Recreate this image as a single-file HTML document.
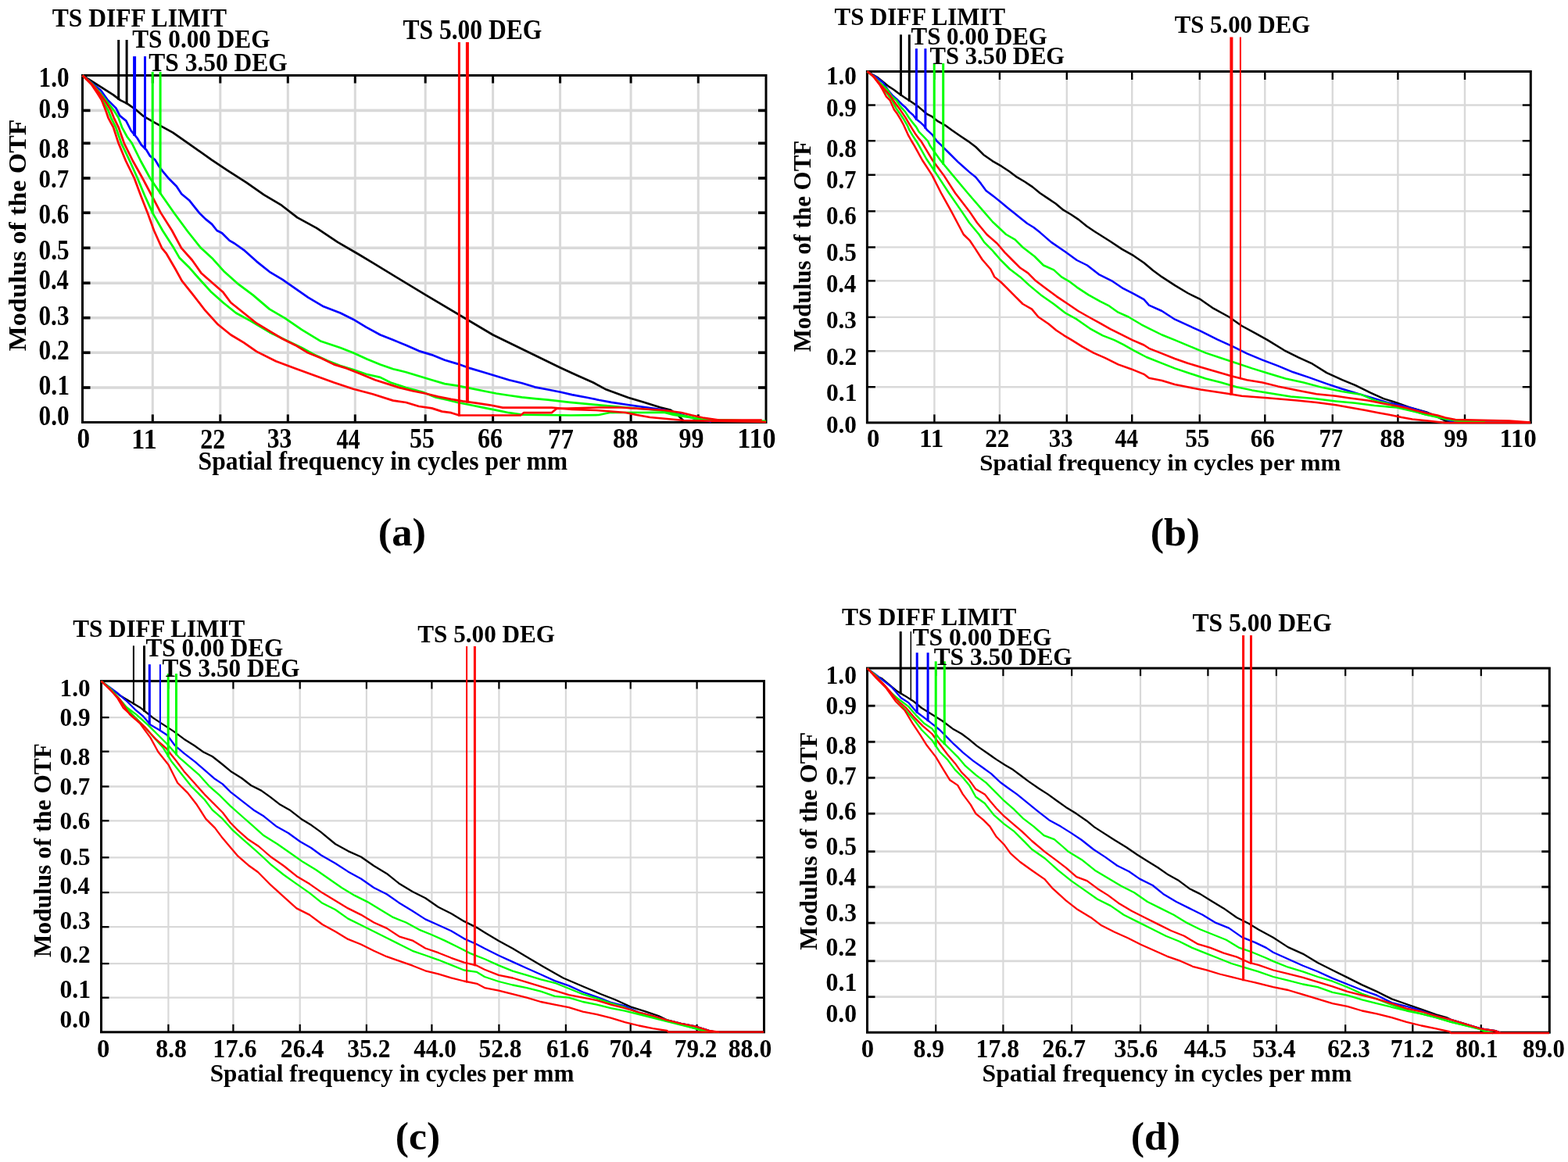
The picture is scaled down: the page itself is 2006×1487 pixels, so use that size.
<!DOCTYPE html><html><head><meta charset="utf-8"><title>MTF plots</title><style>html,body{margin:0;padding:0;background:#fff;width:2006px;height:1487px;overflow:hidden}svg{display:block}text{font-family:'Liberation Serif', serif;font-weight:bold;fill:#000}</style></head><body>
<svg width="2006" height="1487" viewBox="0 0 2006 1487">
<rect width="2006" height="1487" fill="#fff"/>
<line x1="195.3" y1="96.5" x2="195.3" y2="540.4" stroke="#d9d9d9" stroke-width="3"/>
<line x1="281.8" y1="96.5" x2="281.8" y2="540.4" stroke="#d9d9d9" stroke-width="3"/>
<line x1="368.3" y1="96.5" x2="368.3" y2="540.4" stroke="#d9d9d9" stroke-width="3"/>
<line x1="454.3" y1="96.5" x2="454.3" y2="540.4" stroke="#d9d9d9" stroke-width="3"/>
<line x1="544.2" y1="96.5" x2="544.2" y2="540.4" stroke="#d9d9d9" stroke-width="3"/>
<line x1="630.6" y1="96.5" x2="630.6" y2="540.4" stroke="#d9d9d9" stroke-width="3"/>
<line x1="716.6" y1="96.5" x2="716.6" y2="540.4" stroke="#d9d9d9" stroke-width="3"/>
<line x1="807.1" y1="96.5" x2="807.1" y2="540.4" stroke="#d9d9d9" stroke-width="3"/>
<line x1="893.3" y1="96.5" x2="893.3" y2="540.4" stroke="#d9d9d9" stroke-width="3"/>
<line x1="105.5" y1="141.4" x2="980.0" y2="141.4" stroke="#d9d9d9" stroke-width="3.6"/>
<line x1="105.5" y1="183.3" x2="980.0" y2="183.3" stroke="#d9d9d9" stroke-width="3.6"/>
<line x1="105.5" y1="228.0" x2="980.0" y2="228.0" stroke="#d9d9d9" stroke-width="3.6"/>
<line x1="105.5" y1="272.3" x2="980.0" y2="272.3" stroke="#d9d9d9" stroke-width="3.6"/>
<line x1="105.5" y1="317.3" x2="980.0" y2="317.3" stroke="#d9d9d9" stroke-width="3.6"/>
<line x1="105.5" y1="362.2" x2="980.0" y2="362.2" stroke="#d9d9d9" stroke-width="3.6"/>
<line x1="105.5" y1="406.7" x2="980.0" y2="406.7" stroke="#d9d9d9" stroke-width="3.6"/>
<line x1="105.5" y1="451.3" x2="980.0" y2="451.3" stroke="#d9d9d9" stroke-width="3.6"/>
<line x1="105.5" y1="496.0" x2="980.0" y2="496.0" stroke="#d9d9d9" stroke-width="3.6"/>
<line x1="195.3" y1="96.5" x2="195.3" y2="106.5" stroke="#000" stroke-width="3"/>
<line x1="195.3" y1="540.4" x2="195.3" y2="530.4" stroke="#000" stroke-width="3"/>
<line x1="281.8" y1="96.5" x2="281.8" y2="106.5" stroke="#000" stroke-width="3"/>
<line x1="281.8" y1="540.4" x2="281.8" y2="530.4" stroke="#000" stroke-width="3"/>
<line x1="368.3" y1="96.5" x2="368.3" y2="106.5" stroke="#000" stroke-width="3"/>
<line x1="368.3" y1="540.4" x2="368.3" y2="530.4" stroke="#000" stroke-width="3"/>
<line x1="454.3" y1="96.5" x2="454.3" y2="106.5" stroke="#000" stroke-width="3"/>
<line x1="454.3" y1="540.4" x2="454.3" y2="530.4" stroke="#000" stroke-width="3"/>
<line x1="544.2" y1="96.5" x2="544.2" y2="106.5" stroke="#000" stroke-width="3"/>
<line x1="544.2" y1="540.4" x2="544.2" y2="530.4" stroke="#000" stroke-width="3"/>
<line x1="630.6" y1="96.5" x2="630.6" y2="106.5" stroke="#000" stroke-width="3"/>
<line x1="630.6" y1="540.4" x2="630.6" y2="530.4" stroke="#000" stroke-width="3"/>
<line x1="716.6" y1="96.5" x2="716.6" y2="106.5" stroke="#000" stroke-width="3"/>
<line x1="716.6" y1="540.4" x2="716.6" y2="530.4" stroke="#000" stroke-width="3"/>
<line x1="807.1" y1="96.5" x2="807.1" y2="106.5" stroke="#000" stroke-width="3"/>
<line x1="807.1" y1="540.4" x2="807.1" y2="530.4" stroke="#000" stroke-width="3"/>
<line x1="893.3" y1="96.5" x2="893.3" y2="106.5" stroke="#000" stroke-width="3"/>
<line x1="893.3" y1="540.4" x2="893.3" y2="530.4" stroke="#000" stroke-width="3"/>
<line x1="105.5" y1="141.4" x2="115.5" y2="141.4" stroke="#000" stroke-width="3.6"/>
<line x1="980.0" y1="141.4" x2="970.0" y2="141.4" stroke="#000" stroke-width="3.6"/>
<line x1="105.5" y1="183.3" x2="115.5" y2="183.3" stroke="#000" stroke-width="3.6"/>
<line x1="980.0" y1="183.3" x2="970.0" y2="183.3" stroke="#000" stroke-width="3.6"/>
<line x1="105.5" y1="228.0" x2="115.5" y2="228.0" stroke="#000" stroke-width="3.6"/>
<line x1="980.0" y1="228.0" x2="970.0" y2="228.0" stroke="#000" stroke-width="3.6"/>
<line x1="105.5" y1="272.3" x2="115.5" y2="272.3" stroke="#000" stroke-width="3.6"/>
<line x1="980.0" y1="272.3" x2="970.0" y2="272.3" stroke="#000" stroke-width="3.6"/>
<line x1="105.5" y1="317.3" x2="115.5" y2="317.3" stroke="#000" stroke-width="3.6"/>
<line x1="980.0" y1="317.3" x2="970.0" y2="317.3" stroke="#000" stroke-width="3.6"/>
<line x1="105.5" y1="362.2" x2="115.5" y2="362.2" stroke="#000" stroke-width="3.6"/>
<line x1="980.0" y1="362.2" x2="970.0" y2="362.2" stroke="#000" stroke-width="3.6"/>
<line x1="105.5" y1="406.7" x2="115.5" y2="406.7" stroke="#000" stroke-width="3.6"/>
<line x1="980.0" y1="406.7" x2="970.0" y2="406.7" stroke="#000" stroke-width="3.6"/>
<line x1="105.5" y1="451.3" x2="115.5" y2="451.3" stroke="#000" stroke-width="3.6"/>
<line x1="980.0" y1="451.3" x2="970.0" y2="451.3" stroke="#000" stroke-width="3.6"/>
<line x1="105.5" y1="496.0" x2="115.5" y2="496.0" stroke="#000" stroke-width="3.6"/>
<line x1="980.0" y1="496.0" x2="970.0" y2="496.0" stroke="#000" stroke-width="3.6"/>
<rect x="105.5" y="96.5" width="874.5" height="443.9" fill="none" stroke="#000" stroke-width="3"/>
<path d="M105.5,96.5 L129.2,111.3 L144.9,121.4 L153.8,128.1 L162.8,132.6 L174.0,140.5 L183.0,148.3 L198.7,157.3 L221.1,169.6 L243.6,185.3 L270.5,204.4 L290.7,217.9 L315.3,233.6 L337.8,249.3 L360.2,262.7 L380.4,278.4 L405.1,291.9 L432.0,309.8 L458.9,325.5 L476.6,336.2 L544.5,377.4 L630.6,428.5 L716.8,470.5 L736.9,479.8 L758.9,489.5 L775.7,498.6 L804.3,509.0 L823.7,514.8 L844.4,521.3 L857.4,524.5 L866.0,530.0 L875.0,539.0" fill="none" stroke="#000" stroke-width="2.7" stroke-linejoin="round"/>
<path d="M105.5,96.5 L109.7,99.7 L119.4,107.8 L129.1,115.8 L137.1,127.1 L148.4,138.4 L153.3,148.1 L161.3,154.6 L167.8,167.5 L175.9,177.2 L180.7,185.2 L187.2,191.7 L192.0,199.7 L198.5,204.6 L203.3,212.7 L208.1,219.1 L216.2,228.8 L225.9,238.5 L232.3,248.2 L242.0,256.2 L248.5,264.3 L254.9,272.4 L263.0,280.4 L271.1,286.9 L277.5,295.0 L284.0,298.2 L293.7,307.9 L300.0,311.5 L311.8,319.8 L328.3,334.6 L344.8,347.8 L361.2,357.7 L377.7,369.2 L394.2,380.7 L414.0,392.3 L435.4,400.5 L451.9,408.7 L468.4,418.6 L486.5,428.5 L503.0,435.1 L519.4,441.7 L535.9,449.1 L552.4,454.1 L568.9,460.7 L585.3,465.6 L601.8,471.4 L618.3,476.3 L634.8,481.3 L651.2,486.2 L667.7,490.3 L684.2,495.3 L700.7,498.5 L717.2,501.8 L731.7,505.1 L752.4,509.0 L766.7,512.0 L782.2,514.8 L803.0,518.0 L826.3,521.3 L849.6,524.5 L870.0,530.0 L890.0,536.0 L910.0,539.5" fill="none" stroke="#0000ff" stroke-width="2.7" stroke-linejoin="round"/>
<path d="M105.5,96.5 L112.0,102.0 L118.5,108.0 L129.0,120.0 L137.0,130.0 L145.7,141.4 L151.6,150.8 L156.0,162.8 L162.4,174.7 L168.8,183.3 L180.0,206.0 L192.0,228.0 L207.0,250.0 L222.7,272.4 L240.0,296.0 L257.0,317.3 L272.3,331.3 L287.1,347.8 L303.6,362.6 L323.4,377.4 L344.8,395.6 L364.5,407.1 L386.0,421.9 L410.7,436.8 L435.4,445.0 L451.9,451.6 L470.0,459.8 L486.5,466.4 L503.0,472.2 L519.4,476.3 L535.9,481.3 L552.4,486.2 L568.9,491.1 L585.3,493.6 L601.8,496.9 L618.3,500.2 L634.8,503.5 L651.2,506.0 L667.7,508.4 L684.2,510.1 L700.7,511.7 L729.1,514.8 L766.7,518.4 L799.1,521.3 L830.0,524.0 L850.0,526.0 L870.0,531.0 L900.0,537.0 L980.0,539.0" fill="none" stroke="#00ff00" stroke-width="2.7" stroke-linejoin="round"/>
<path d="M105.5,96.5 L111.5,102.0 L117.5,108.0 L126.5,120.0 L132.0,130.0 L138.5,141.4 L142.1,150.8 L148.1,162.8 L155.2,183.3 L166.0,206.0 L175.9,228.0 L185.0,250.0 L195.2,272.4 L208.0,295.0 L222.3,317.3 L229.4,329.7 L242.6,342.8 L254.1,356.0 L270.6,374.1 L285.5,387.3 L301.9,400.5 L320.0,410.4 L344.8,425.2 L386.0,445.0 L402.4,454.0 L418.9,461.5 L435.4,468.0 L451.9,473.0 L468.4,478.8 L486.5,482.9 L499.7,489.5 L519.4,496.1 L540.9,501.8 L557.3,508.4 L572.2,511.7 L585.3,515.0 L601.8,518.3 L618.3,521.6 L634.8,524.9 L651.2,528.2 L667.7,530.7 L730.0,531.5 L766.0,531.0 L780.0,528.0 L849.6,527.8 L862.0,531.0 L883.0,534.2 L897.0,537.5 L940.0,538.0 L980.0,539.0" fill="none" stroke="#00ff00" stroke-width="2.7" stroke-linejoin="round"/>
<path d="M105.5,96.5 L111.8,102.0 L118.0,108.0 L128.0,120.0 L135.0,130.0 L142.0,141.4 L145.7,150.8 L151.6,162.8 L158.8,183.3 L170.0,206.0 L182.3,228.0 L194.0,250.0 L205.7,272.4 L220.0,295.0 L232.0,317.3 L245.9,333.0 L257.4,349.4 L272.3,362.6 L285.5,374.1 L295.3,387.3 L311.8,400.5 L328.3,413.7 L344.8,423.6 L361.2,433.5 L377.7,441.7 L394.2,451.6 L410.7,458.2 L427.2,466.4 L443.6,471.4 L460.1,478.0 L480.0,486.2 L511.2,496.1 L527.7,500.2 L544.1,503.5 L560.6,507.6 L577.1,510.9 L591.9,513.4 L610.0,515.9 L626.5,518.3 L643.0,521.6 L705.6,521.6 L731.7,523.9 L762.8,525.0 L800.4,528.0 L814.6,531.0 L831.5,534.0 L874.9,538.0 L980.0,540.0" fill="none" stroke="#ff0000" stroke-width="2.7" stroke-linejoin="round"/>
<path d="M105.5,96.5 L111.0,102.0 L117.0,108.0 L125.0,120.0 L130.0,128.0 L135.3,141.4 L138.5,150.8 L145.0,162.8 L151.6,183.3 L161.0,206.0 L171.8,228.0 L180.0,250.0 L188.8,272.4 L197.0,295.0 L207.0,317.3 L213.0,324.7 L224.5,344.5 L232.7,359.3 L245.9,375.8 L262.4,397.2 L278.9,415.3 L295.3,428.5 L311.8,438.4 L328.3,449.9 L353.0,462.3 L377.7,471.4 L402.4,480.4 L427.2,489.5 L451.9,497.7 L476.6,504.3 L503.0,512.6 L519.4,515.0 L535.9,520.0 L552.4,522.4 L565.6,526.6 L577.1,528.2 L587.5,531.5 L666.0,531.5 L670.0,528.2 L705.6,528.2 L712.0,523.0 L762.8,521.5 L795.2,521.5 L849.6,525.0 L871.6,528.0 L884.6,531.3 L898.9,534.5 L920.0,537.5 L974.7,537.5" fill="none" stroke="#ff0000" stroke-width="2.7" stroke-linejoin="round"/>
<line x1="151.7" y1="51" x2="151.7" y2="127.7" stroke="#000" stroke-width="3"/>
<line x1="162.1" y1="51" x2="162.1" y2="133.4" stroke="#000" stroke-width="3"/>
<line x1="172.1" y1="72.1" x2="172.1" y2="173.8" stroke="#0000ff" stroke-width="4"/>
<line x1="185.5" y1="72.1" x2="185.5" y2="191.2" stroke="#0000ff" stroke-width="3"/>
<line x1="195.2" y1="92" x2="195.2" y2="273.6" stroke="#00ff00" stroke-width="3"/>
<line x1="205.1" y1="92" x2="205.1" y2="248.4" stroke="#00ff00" stroke-width="3"/>
<line x1="587.4" y1="53.9" x2="587.4" y2="532.7" stroke="#ff0000" stroke-width="3"/>
<line x1="597.9" y1="53.9" x2="597.9" y2="515.4" stroke="#ff0000" stroke-width="4"/>
<text transform="translate(66.73,34.26) scale(0.9275,1)" font-size="34.05">TS DIFF LIMIT</text>
<text transform="translate(169.23,61.19) scale(0.9284,1)" font-size="33.68">TS 0.00 DEG</text>
<text transform="translate(190.33,91.49) scale(0.9347,1)" font-size="33.68">TS 3.50 DEG</text>
<text transform="translate(515.43,50.37) scale(0.8865,1)" font-size="35.59">TS 5.00 DEG</text>
<text transform="translate(49.61,111.48) scale(0.8943,1)" font-size="34.85">1.0</text>
<text transform="translate(49.53,150.96) scale(0.8651,1)" font-size="36.03">0.9</text>
<text transform="translate(49.53,202.28) scale(0.8924,1)" font-size="34.85">0.8</text>
<text transform="translate(49.54,240.08) scale(0.8905,1)" font-size="34.71">0.7</text>
<text transform="translate(49.54,286.38) scale(0.8905,1)" font-size="34.85">0.6</text>
<text transform="translate(49.53,331.86) scale(0.8599,1)" font-size="36.32">0.5</text>
<text transform="translate(49.55,370.38) scale(0.8812,1)" font-size="34.85">0.4</text>
<text transform="translate(49.53,415.76) scale(0.8651,1)" font-size="36.03">0.3</text>
<text transform="translate(49.52,460.38) scale(0.9000,1)" font-size="34.85">0.2</text>
<text transform="translate(49.51,504.98) scale(0.9078,1)" font-size="34.85">0.1</text>
<text transform="translate(49.53,544.28) scale(0.8962,1)" font-size="34.85">0.0</text>
<text transform="translate(98.56,573.34) scale(0.9292,1)" font-size="35.70">0</text>
<text transform="translate(168.02,573.70) scale(0.9505,1)" font-size="36.52">11</text>
<text transform="translate(256.14,573.70) scale(0.8803,1)" font-size="36.38">22</text>
<text transform="translate(341.82,573.34) scale(0.8815,1)" font-size="35.84">33</text>
<text transform="translate(430.52,573.70) scale(0.8241,1)" font-size="36.65">44</text>
<text transform="translate(524.03,573.34) scale(0.8794,1)" font-size="36.24">55</text>
<text transform="translate(610.98,573.34) scale(0.8923,1)" font-size="35.84">66</text>
<text transform="translate(701.12,573.70) scale(0.8887,1)" font-size="36.79">77</text>
<text transform="translate(784.04,573.34) scale(0.9106,1)" font-size="35.70">88</text>
<text transform="translate(868.52,573.34) scale(0.8900,1)" font-size="35.84">99</text>
<text transform="translate(943.26,573.34) scale(0.9579,1)" font-size="35.70">110</text>
<text transform="translate(253.54,601.37) scale(0.9549,1)" font-size="33.15">Spatial frequency in cycles per mm</text>
<text transform="translate(33.20,449.19) rotate(-90) scale(1.0491,1)" font-size="32.33">Modulus of the OTF</text>
<text transform="translate(483.63,697.65) scale(1.0422,1)" font-size="50.58">(a)</text>
<line x1="1195.4" y1="91.5" x2="1195.4" y2="540.9" stroke="#d9d9d9" stroke-width="2.4"/>
<line x1="1278.9" y1="91.5" x2="1278.9" y2="540.9" stroke="#d9d9d9" stroke-width="2.4"/>
<line x1="1364.8" y1="91.5" x2="1364.8" y2="540.9" stroke="#d9d9d9" stroke-width="2.4"/>
<line x1="1448.2" y1="91.5" x2="1448.2" y2="540.9" stroke="#d9d9d9" stroke-width="2.4"/>
<line x1="1534.8" y1="91.5" x2="1534.8" y2="540.9" stroke="#d9d9d9" stroke-width="2.4"/>
<line x1="1618.3" y1="91.5" x2="1618.3" y2="540.9" stroke="#d9d9d9" stroke-width="2.4"/>
<line x1="1704.8" y1="91.5" x2="1704.8" y2="540.9" stroke="#d9d9d9" stroke-width="2.4"/>
<line x1="1788.4" y1="91.5" x2="1788.4" y2="540.9" stroke="#d9d9d9" stroke-width="2.4"/>
<line x1="1874.0" y1="91.5" x2="1874.0" y2="540.9" stroke="#d9d9d9" stroke-width="2.4"/>
<line x1="1109.4" y1="134.5" x2="1958.3" y2="134.5" stroke="#d9d9d9" stroke-width="2.4"/>
<line x1="1109.4" y1="180.2" x2="1958.3" y2="180.2" stroke="#d9d9d9" stroke-width="2.4"/>
<line x1="1109.4" y1="223.8" x2="1958.3" y2="223.8" stroke="#d9d9d9" stroke-width="2.4"/>
<line x1="1109.4" y1="270.3" x2="1958.3" y2="270.3" stroke="#d9d9d9" stroke-width="2.4"/>
<line x1="1109.4" y1="316.4" x2="1958.3" y2="316.4" stroke="#d9d9d9" stroke-width="2.4"/>
<line x1="1109.4" y1="359.4" x2="1958.3" y2="359.4" stroke="#d9d9d9" stroke-width="2.4"/>
<line x1="1109.4" y1="405.9" x2="1958.3" y2="405.9" stroke="#d9d9d9" stroke-width="2.4"/>
<line x1="1109.4" y1="449.3" x2="1958.3" y2="449.3" stroke="#d9d9d9" stroke-width="2.4"/>
<line x1="1109.4" y1="495.2" x2="1958.3" y2="495.2" stroke="#d9d9d9" stroke-width="2.4"/>
<line x1="1195.4" y1="91.5" x2="1195.4" y2="102.0" stroke="#000" stroke-width="2.4"/>
<line x1="1195.4" y1="540.9" x2="1195.4" y2="530.4" stroke="#000" stroke-width="2.4"/>
<line x1="1278.9" y1="91.5" x2="1278.9" y2="102.0" stroke="#000" stroke-width="2.4"/>
<line x1="1278.9" y1="540.9" x2="1278.9" y2="530.4" stroke="#000" stroke-width="2.4"/>
<line x1="1364.8" y1="91.5" x2="1364.8" y2="102.0" stroke="#000" stroke-width="2.4"/>
<line x1="1364.8" y1="540.9" x2="1364.8" y2="530.4" stroke="#000" stroke-width="2.4"/>
<line x1="1448.2" y1="91.5" x2="1448.2" y2="102.0" stroke="#000" stroke-width="2.4"/>
<line x1="1448.2" y1="540.9" x2="1448.2" y2="530.4" stroke="#000" stroke-width="2.4"/>
<line x1="1534.8" y1="91.5" x2="1534.8" y2="102.0" stroke="#000" stroke-width="2.4"/>
<line x1="1534.8" y1="540.9" x2="1534.8" y2="530.4" stroke="#000" stroke-width="2.4"/>
<line x1="1618.3" y1="91.5" x2="1618.3" y2="102.0" stroke="#000" stroke-width="2.4"/>
<line x1="1618.3" y1="540.9" x2="1618.3" y2="530.4" stroke="#000" stroke-width="2.4"/>
<line x1="1704.8" y1="91.5" x2="1704.8" y2="102.0" stroke="#000" stroke-width="2.4"/>
<line x1="1704.8" y1="540.9" x2="1704.8" y2="530.4" stroke="#000" stroke-width="2.4"/>
<line x1="1788.4" y1="91.5" x2="1788.4" y2="102.0" stroke="#000" stroke-width="2.4"/>
<line x1="1788.4" y1="540.9" x2="1788.4" y2="530.4" stroke="#000" stroke-width="2.4"/>
<line x1="1874.0" y1="91.5" x2="1874.0" y2="102.0" stroke="#000" stroke-width="2.4"/>
<line x1="1874.0" y1="540.9" x2="1874.0" y2="530.4" stroke="#000" stroke-width="2.4"/>
<line x1="1109.4" y1="134.5" x2="1119.9" y2="134.5" stroke="#000" stroke-width="2.4"/>
<line x1="1958.3" y1="134.5" x2="1947.8" y2="134.5" stroke="#000" stroke-width="2.4"/>
<line x1="1109.4" y1="180.2" x2="1119.9" y2="180.2" stroke="#000" stroke-width="2.4"/>
<line x1="1958.3" y1="180.2" x2="1947.8" y2="180.2" stroke="#000" stroke-width="2.4"/>
<line x1="1109.4" y1="223.8" x2="1119.9" y2="223.8" stroke="#000" stroke-width="2.4"/>
<line x1="1958.3" y1="223.8" x2="1947.8" y2="223.8" stroke="#000" stroke-width="2.4"/>
<line x1="1109.4" y1="270.3" x2="1119.9" y2="270.3" stroke="#000" stroke-width="2.4"/>
<line x1="1958.3" y1="270.3" x2="1947.8" y2="270.3" stroke="#000" stroke-width="2.4"/>
<line x1="1109.4" y1="316.4" x2="1119.9" y2="316.4" stroke="#000" stroke-width="2.4"/>
<line x1="1958.3" y1="316.4" x2="1947.8" y2="316.4" stroke="#000" stroke-width="2.4"/>
<line x1="1109.4" y1="359.4" x2="1119.9" y2="359.4" stroke="#000" stroke-width="2.4"/>
<line x1="1958.3" y1="359.4" x2="1947.8" y2="359.4" stroke="#000" stroke-width="2.4"/>
<line x1="1109.4" y1="405.9" x2="1119.9" y2="405.9" stroke="#000" stroke-width="2.4"/>
<line x1="1958.3" y1="405.9" x2="1947.8" y2="405.9" stroke="#000" stroke-width="2.4"/>
<line x1="1109.4" y1="449.3" x2="1119.9" y2="449.3" stroke="#000" stroke-width="2.4"/>
<line x1="1958.3" y1="449.3" x2="1947.8" y2="449.3" stroke="#000" stroke-width="2.4"/>
<line x1="1109.4" y1="495.2" x2="1119.9" y2="495.2" stroke="#000" stroke-width="2.4"/>
<line x1="1958.3" y1="495.2" x2="1947.8" y2="495.2" stroke="#000" stroke-width="2.4"/>
<rect x="1109.4" y="91.5" width="848.9" height="449.4" fill="none" stroke="#000" stroke-width="3"/>
<path d="M1109.4,91.5 L1123.2,99.4 L1130.6,105.5 L1137.3,110.9 L1142.7,114.2 L1150.7,120.3 L1158.8,125.7 L1166.9,131.0 L1175.6,137.1 L1185.7,145.8 L1192.4,149.2 L1199.8,155.2 L1209.2,160.3 L1217.3,166.3 L1228.5,174.0 L1238.4,180.6 L1248.3,188.0 L1258.2,197.9 L1269.7,206.1 L1281.2,212.7 L1291.1,219.3 L1301.0,226.7 L1310.9,232.5 L1320.8,239.1 L1330.7,247.3 L1340.6,253.9 L1350.5,260.5 L1360.3,268.7 L1370.2,274.5 L1380.1,281.1 L1390.0,289.3 L1400.0,296.0 L1420.6,309.0 L1435.4,318.9 L1450.2,327.2 L1463.4,336.2 L1475.0,346.0 L1486.5,354.4 L1503.0,365.1 L1519.4,375.0 L1535.9,383.2 L1552.4,394.7 L1572.2,405.5 L1588.6,417.0 L1606.8,426.9 L1621.6,435.1 L1643.0,448.3 L1661.1,457.4 L1677.6,464.8 L1697.4,477.1 L1717.2,486.2 L1733.6,492.8 L1753.4,502.7 L1770.0,510.1 L1785.4,515.0 L1803.6,521.5 L1825.0,527.4 L1840.0,534.0 L1855.0,541.0" fill="none" stroke="#000" stroke-width="2.5" stroke-linejoin="round"/>
<path d="M1109.4,91.5 L1120.0,98.0 L1130.0,106.0 L1137.3,116.9 L1142.7,123.0 L1148.7,128.3 L1154.1,133.7 L1158.8,137.8 L1163.5,143.1 L1168.2,147.2 L1172.2,152.6 L1178.3,157.3 L1181.7,160.6 L1185.7,166.0 L1192.4,172.1 L1198.5,180.5 L1204.5,186.2 L1207.1,188.8 L1215.3,197.0 L1225.2,206.9 L1231.8,212.7 L1240.1,220.1 L1248.3,226.7 L1254.9,234.9 L1261.5,244.0 L1271.4,251.4 L1279.6,258.0 L1289.5,266.2 L1297.7,272.8 L1306.0,279.4 L1314.2,286.0 L1322.4,291.0 L1330.7,297.6 L1344.8,309.9 L1362.9,322.2 L1377.7,333.0 L1390.9,339.5 L1405.7,351.1 L1422.2,359.3 L1437.0,369.2 L1450.2,375.8 L1463.4,383.2 L1470.0,390.6 L1486.5,398.0 L1503.0,408.7 L1519.4,416.2 L1535.9,423.6 L1557.3,434.3 L1577.1,443.4 L1595.2,452.4 L1615.0,460.7 L1634.8,468.1 L1654.5,476.3 L1674.3,482.9 L1697.4,491.1 L1717.2,497.7 L1741.9,505.1 L1761.6,510.9 L1776.8,515.6 L1789.7,518.2 L1805.0,522.0 L1825.0,528.0 L1845.0,535.0 L1860.0,540.0" fill="none" stroke="#0000ff" stroke-width="2.5" stroke-linejoin="round"/>
<path d="M1109.4,91.5 L1118.0,98.0 L1125.2,105.5 L1131.9,111.5 L1135.3,114.9 L1140.6,123.0 L1146.7,128.3 L1152.1,136.4 L1158.1,143.1 L1162.8,150.5 L1166.9,155.9 L1172.2,162.6 L1175.6,168.7 L1181.0,174.1 L1187.0,180.5 L1189.7,186.2 L1203.0,205.0 L1218.6,223.9 L1238.0,247.0 L1258.2,270.4 L1270.0,284.0 L1287.1,300.0 L1298.6,306.6 L1308.5,316.5 L1323.4,328.0 L1334.9,339.5 L1348.1,345.3 L1358.0,354.4 L1367.8,360.1 L1377.7,367.6 L1392.6,377.4 L1407.4,385.7 L1418.9,391.4 L1430.5,399.7 L1443.6,405.5 L1460.1,415.3 L1470.0,420.3 L1486.5,428.5 L1503.0,435.1 L1522.7,443.4 L1542.5,451.6 L1562.3,458.2 L1582.0,464.8 L1601.8,471.4 L1623.2,478.0 L1644.7,484.5 L1667.7,489.5 L1692.4,496.1 L1717.2,501.0 L1741.9,505.1 L1760.0,512.9 L1773.0,515.6 L1790.0,521.0 L1812.0,527.0 L1824.0,530.6 L1836.0,533.3 L1849.0,536.0 L1870.0,539.0 L1900.0,540.5" fill="none" stroke="#00ff00" stroke-width="2.5" stroke-linejoin="round"/>
<path d="M1109.4,91.5 L1118.0,98.0 L1126.0,108.0 L1135.3,120.3 L1141.3,128.3 L1144.0,133.7 L1146.7,139.1 L1152.1,146.5 L1156.1,152.6 L1160.8,160.6 L1163.5,166.7 L1167.5,173.4 L1172.2,180.5 L1175.6,186.2 L1185.0,203.0 L1198.9,223.9 L1214.0,247.0 L1230.2,270.4 L1240.0,285.0 L1252.5,300.0 L1259.1,309.9 L1269.0,319.8 L1278.9,331.3 L1292.0,344.5 L1305.2,354.4 L1316.8,365.1 L1331.6,377.4 L1348.1,389.0 L1362.9,400.5 L1377.7,408.7 L1394.2,420.3 L1410.7,429.3 L1425.5,435.1 L1437.0,440.9 L1450.2,448.3 L1466.7,457.0 L1486.5,464.8 L1503.0,471.4 L1522.7,478.0 L1542.5,484.5 L1562.3,489.5 L1582.0,495.3 L1601.8,499.4 L1626.5,503.5 L1651.2,507.6 L1680.9,510.1 L1708.9,513.4 L1733.6,515.8 L1758.4,519.1 L1770.0,520.0 L1787.0,521.5 L1801.0,524.7 L1812.0,527.4 L1824.0,530.6 L1839.0,533.3 L1849.0,536.0 L1870.0,539.0 L1900.0,540.5" fill="none" stroke="#00ff00" stroke-width="2.5" stroke-linejoin="round"/>
<path d="M1109.4,91.5 L1118.0,98.0 L1126.0,108.0 L1133.9,116.9 L1138.6,121.6 L1142.7,128.3 L1146.7,133.7 L1152.1,141.1 L1158.1,149.9 L1162.8,157.9 L1166.9,164.7 L1171.6,172.1 L1175.6,177.4 L1178.3,180.5 L1181.7,186.2 L1193.0,205.0 L1207.1,223.9 L1222.0,247.0 L1240.1,270.4 L1250.0,285.0 L1262.4,300.0 L1275.6,311.5 L1285.5,323.1 L1295.3,333.0 L1305.2,342.8 L1315.1,349.4 L1325.0,359.3 L1338.2,369.2 L1351.4,379.1 L1366.2,389.0 L1379.4,398.0 L1392.6,405.5 L1407.4,413.7 L1420.6,421.1 L1433.7,427.7 L1448.6,435.1 L1463.4,441.5 L1470.0,445.8 L1486.5,452.4 L1503.0,459.0 L1519.4,464.8 L1535.9,469.7 L1555.7,475.5 L1575.5,481.2 L1595.2,486.2 L1615.0,489.5 L1634.8,494.4 L1659.5,499.4 L1684.2,504.3 L1708.9,506.8 L1725.4,509.3 L1750.1,512.6 L1770.0,516.5 L1787.0,519.5 L1801.0,522.5 L1812.0,525.5 L1824.0,528.5 L1839.0,531.5 L1849.0,534.5 L1862.0,537.0 L1931.0,538.5 L1958.0,540.5" fill="none" stroke="#ff0000" stroke-width="2.5" stroke-linejoin="round"/>
<path d="M1109.4,91.5 L1111.7,92.7 L1118.4,99.4 L1125.2,108.2 L1129.9,116.2 L1133.9,123.6 L1138.6,128.3 L1141.3,134.4 L1144.0,140.5 L1148.0,145.8 L1152.1,152.6 L1156.1,160.0 L1158.8,166.0 L1162.2,173.4 L1166.2,180.5 L1169.6,186.2 L1180.0,205.0 L1192.3,223.9 L1204.0,247.0 L1217.0,270.4 L1232.7,300.0 L1241.0,308.2 L1247.6,318.1 L1256.5,332.0 L1267.3,344.5 L1272.3,354.4 L1280.5,361.0 L1288.7,369.2 L1298.6,379.1 L1308.5,389.0 L1320.1,395.6 L1328.3,405.5 L1341.5,414.5 L1351.4,422.8 L1361.3,429.3 L1371.1,435.1 L1384.3,443.4 L1399.1,451.6 L1414.0,458.2 L1430.5,466.4 L1446.9,472.2 L1463.4,478.8 L1470.0,483.7 L1486.5,487.0 L1503.0,492.0 L1519.4,495.3 L1535.9,498.6 L1552.4,501.0 L1572.2,504.0 L1588.6,506.8 L1621.6,509.3 L1659.5,512.6 L1684.2,515.0 L1708.9,518.3 L1727.0,521.6 L1746.8,524.9 L1763.3,528.2 L1781.0,531.5 L1793.0,534.0 L1806.8,536.5 L1826.6,538.5 L1848.0,541.0 L1958.0,541.0" fill="none" stroke="#ff0000" stroke-width="2.5" stroke-linejoin="round"/>
<line x1="1152.5" y1="44.3" x2="1152.5" y2="122.7" stroke="#000" stroke-width="3"/>
<line x1="1163.3" y1="44.3" x2="1163.3" y2="129.8" stroke="#000" stroke-width="3"/>
<line x1="1172.4" y1="62.2" x2="1172.4" y2="154.0" stroke="#0000ff" stroke-width="3"/>
<line x1="1183.9" y1="62.2" x2="1183.9" y2="164.8" stroke="#0000ff" stroke-width="3"/>
<line x1="1195.2" y1="81" x2="1195.2" y2="219.5" stroke="#00ff00" stroke-width="3"/>
<line x1="1206.7" y1="81" x2="1206.7" y2="210.7" stroke="#00ff00" stroke-width="3"/>
<line x1="1575.4" y1="47.4" x2="1575.4" y2="505.7" stroke="#ff0000" stroke-width="4"/>
<line x1="1586.9" y1="47.4" x2="1586.9" y2="485.3" stroke="#ff0000" stroke-width="2"/>
<text transform="translate(1067.54,31.88) scale(0.9756,1)" font-size="31.67">TS DIFF LIMIT</text>
<text transform="translate(1165.54,56.92) scale(0.9602,1)" font-size="32.21">TS 0.00 DEG</text>
<text transform="translate(1189.54,82.13) scale(0.9685,1)" font-size="31.62">TS 3.50 DEG</text>
<text transform="translate(1502.74,42.41) scale(0.9471,1)" font-size="32.50">TS 5.00 DEG</text>
<text transform="translate(1057.01,108.00) scale(0.9420,1)" font-size="33.09">1.0</text>
<text transform="translate(1056.93,148.50) scale(0.9337,1)" font-size="33.38">0.9</text>
<text transform="translate(1056.93,200.61) scale(0.9527,1)" font-size="32.65">0.8</text>
<text transform="translate(1056.94,241.10) scale(0.9258,1)" font-size="33.38">0.7</text>
<text transform="translate(1056.94,287.40) scale(0.9297,1)" font-size="33.38">0.6</text>
<text transform="translate(1056.93,333.60) scale(0.9440,1)" font-size="33.09">0.5</text>
<text transform="translate(1056.95,373.61) scale(0.9365,1)" font-size="32.79">0.4</text>
<text transform="translate(1056.93,420.21) scale(0.9590,1)" font-size="32.50">0.3</text>
<text transform="translate(1056.92,466.62) scale(0.9784,1)" font-size="32.06">0.2</text>
<text transform="translate(1056.91,513.21) scale(0.9735,1)" font-size="32.50">0.1</text>
<text transform="translate(1056.93,553.72) scale(0.9743,1)" font-size="32.06">0.0</text>
<text transform="translate(1108.97,572.07) scale(0.9989,1)" font-size="32.74">0</text>
<text transform="translate(1175.95,572.40) scale(0.9887,1)" font-size="33.48">11</text>
<text transform="translate(1260.28,572.40) scale(0.9337,1)" font-size="33.36">22</text>
<text transform="translate(1341.85,572.07) scale(0.9350,1)" font-size="32.86">33</text>
<text transform="translate(1426.53,572.40) scale(0.8803,1)" font-size="33.61">44</text>
<text transform="translate(1516.25,572.07) scale(0.9394,1)" font-size="33.23">55</text>
<text transform="translate(1599.81,572.07) scale(0.9471,1)" font-size="32.86">66</text>
<text transform="translate(1687.43,572.40) scale(0.9109,1)" font-size="33.74">77</text>
<text transform="translate(1765.57,572.07) scale(0.9702,1)" font-size="32.74">88</text>
<text transform="translate(1847.26,572.07) scale(0.9283,1)" font-size="32.86">99</text>
<text transform="translate(1918.59,572.07) scale(0.9962,1)" font-size="32.74">110</text>
<text transform="translate(1253.28,601.96) scale(1.0170,1)" font-size="30.43">Spatial frequency in cycles per mm</text>
<text transform="translate(1037.30,450.34) rotate(-90) scale(0.9729,1)" font-size="31.78">Modulus of the OTF</text>
<text transform="translate(1471.66,697.65) scale(1.0278,1)" font-size="50.58">(b)</text>
<line x1="215.4" y1="871.6" x2="215.4" y2="1320.8" stroke="#d9d9d9" stroke-width="2.2"/>
<line x1="298.4" y1="871.6" x2="298.4" y2="1320.8" stroke="#d9d9d9" stroke-width="2.2"/>
<line x1="383.7" y1="871.6" x2="383.7" y2="1320.8" stroke="#d9d9d9" stroke-width="2.2"/>
<line x1="468.9" y1="871.6" x2="468.9" y2="1320.8" stroke="#d9d9d9" stroke-width="2.2"/>
<line x1="552.4" y1="871.6" x2="552.4" y2="1320.8" stroke="#d9d9d9" stroke-width="2.2"/>
<line x1="638.4" y1="871.6" x2="638.4" y2="1320.8" stroke="#d9d9d9" stroke-width="2.2"/>
<line x1="723.9" y1="871.6" x2="723.9" y2="1320.8" stroke="#d9d9d9" stroke-width="2.2"/>
<line x1="806.7" y1="871.6" x2="806.7" y2="1320.8" stroke="#d9d9d9" stroke-width="2.2"/>
<line x1="891.6" y1="871.6" x2="891.6" y2="1320.8" stroke="#d9d9d9" stroke-width="2.2"/>
<line x1="129.5" y1="918.1" x2="977.5" y2="918.1" stroke="#d9d9d9" stroke-width="2.3"/>
<line x1="129.5" y1="961.7" x2="977.5" y2="961.7" stroke="#d9d9d9" stroke-width="2.3"/>
<line x1="129.5" y1="1006.5" x2="977.5" y2="1006.5" stroke="#d9d9d9" stroke-width="2.3"/>
<line x1="129.5" y1="1050.3" x2="977.5" y2="1050.3" stroke="#d9d9d9" stroke-width="2.3"/>
<line x1="129.5" y1="1097.3" x2="977.5" y2="1097.3" stroke="#d9d9d9" stroke-width="2.3"/>
<line x1="129.5" y1="1142.1" x2="977.5" y2="1142.1" stroke="#d9d9d9" stroke-width="2.3"/>
<line x1="129.5" y1="1186.2" x2="977.5" y2="1186.2" stroke="#d9d9d9" stroke-width="2.3"/>
<line x1="129.5" y1="1233.1" x2="977.5" y2="1233.1" stroke="#d9d9d9" stroke-width="2.3"/>
<line x1="129.5" y1="1276.7" x2="977.5" y2="1276.7" stroke="#d9d9d9" stroke-width="2.3"/>
<line x1="215.4" y1="871.6" x2="215.4" y2="881.6" stroke="#000" stroke-width="2.2"/>
<line x1="215.4" y1="1320.8" x2="215.4" y2="1310.8" stroke="#000" stroke-width="2.2"/>
<line x1="298.4" y1="871.6" x2="298.4" y2="881.6" stroke="#000" stroke-width="2.2"/>
<line x1="298.4" y1="1320.8" x2="298.4" y2="1310.8" stroke="#000" stroke-width="2.2"/>
<line x1="383.7" y1="871.6" x2="383.7" y2="881.6" stroke="#000" stroke-width="2.2"/>
<line x1="383.7" y1="1320.8" x2="383.7" y2="1310.8" stroke="#000" stroke-width="2.2"/>
<line x1="468.9" y1="871.6" x2="468.9" y2="881.6" stroke="#000" stroke-width="2.2"/>
<line x1="468.9" y1="1320.8" x2="468.9" y2="1310.8" stroke="#000" stroke-width="2.2"/>
<line x1="552.4" y1="871.6" x2="552.4" y2="881.6" stroke="#000" stroke-width="2.2"/>
<line x1="552.4" y1="1320.8" x2="552.4" y2="1310.8" stroke="#000" stroke-width="2.2"/>
<line x1="638.4" y1="871.6" x2="638.4" y2="881.6" stroke="#000" stroke-width="2.2"/>
<line x1="638.4" y1="1320.8" x2="638.4" y2="1310.8" stroke="#000" stroke-width="2.2"/>
<line x1="723.9" y1="871.6" x2="723.9" y2="881.6" stroke="#000" stroke-width="2.2"/>
<line x1="723.9" y1="1320.8" x2="723.9" y2="1310.8" stroke="#000" stroke-width="2.2"/>
<line x1="806.7" y1="871.6" x2="806.7" y2="881.6" stroke="#000" stroke-width="2.2"/>
<line x1="806.7" y1="1320.8" x2="806.7" y2="1310.8" stroke="#000" stroke-width="2.2"/>
<line x1="891.6" y1="871.6" x2="891.6" y2="881.6" stroke="#000" stroke-width="2.2"/>
<line x1="891.6" y1="1320.8" x2="891.6" y2="1310.8" stroke="#000" stroke-width="2.2"/>
<line x1="129.5" y1="918.1" x2="139.5" y2="918.1" stroke="#000" stroke-width="2.3"/>
<line x1="977.5" y1="918.1" x2="967.5" y2="918.1" stroke="#000" stroke-width="2.3"/>
<line x1="129.5" y1="961.7" x2="139.5" y2="961.7" stroke="#000" stroke-width="2.3"/>
<line x1="977.5" y1="961.7" x2="967.5" y2="961.7" stroke="#000" stroke-width="2.3"/>
<line x1="129.5" y1="1006.5" x2="139.5" y2="1006.5" stroke="#000" stroke-width="2.3"/>
<line x1="977.5" y1="1006.5" x2="967.5" y2="1006.5" stroke="#000" stroke-width="2.3"/>
<line x1="129.5" y1="1050.3" x2="139.5" y2="1050.3" stroke="#000" stroke-width="2.3"/>
<line x1="977.5" y1="1050.3" x2="967.5" y2="1050.3" stroke="#000" stroke-width="2.3"/>
<line x1="129.5" y1="1097.3" x2="139.5" y2="1097.3" stroke="#000" stroke-width="2.3"/>
<line x1="977.5" y1="1097.3" x2="967.5" y2="1097.3" stroke="#000" stroke-width="2.3"/>
<line x1="129.5" y1="1142.1" x2="139.5" y2="1142.1" stroke="#000" stroke-width="2.3"/>
<line x1="977.5" y1="1142.1" x2="967.5" y2="1142.1" stroke="#000" stroke-width="2.3"/>
<line x1="129.5" y1="1186.2" x2="139.5" y2="1186.2" stroke="#000" stroke-width="2.3"/>
<line x1="977.5" y1="1186.2" x2="967.5" y2="1186.2" stroke="#000" stroke-width="2.3"/>
<line x1="129.5" y1="1233.1" x2="139.5" y2="1233.1" stroke="#000" stroke-width="2.3"/>
<line x1="977.5" y1="1233.1" x2="967.5" y2="1233.1" stroke="#000" stroke-width="2.3"/>
<line x1="129.5" y1="1276.7" x2="139.5" y2="1276.7" stroke="#000" stroke-width="2.3"/>
<line x1="977.5" y1="1276.7" x2="967.5" y2="1276.7" stroke="#000" stroke-width="2.3"/>
<rect x="129.5" y="871.6" width="848.0" height="449.2" fill="none" stroke="#000" stroke-width="3"/>
<path d="M129.5,871.6 L141.4,880.7 L153.0,889.7 L169.4,899.6 L179.3,905.4 L187.6,912.0 L195.8,918.6 L210.6,928.4 L222.2,935.9 L235.3,945.7 L248.5,954.0 L260.0,962.2 L271.6,968.0 L283.1,977.0 L296.3,987.8 L309.5,996.0 L321.0,1005.0 L334.2,1011.6 L345.7,1019.9 L357.3,1028.9 L370.5,1036.4 L385.3,1047.9 L398.5,1056.1 L410.0,1064.4 L428.9,1080.0 L445.3,1089.1 L461.8,1096.5 L478.3,1108.0 L494.8,1117.9 L511.2,1131.1 L527.7,1141.0 L544.2,1149.2 L560.7,1160.7 L577.2,1169.0 L593.6,1178.9 L610.1,1187.1 L620.0,1193.2 L638.0,1204.0 L655.9,1213.8 L673.8,1224.6 L695.4,1237.2 L720.5,1251.5 L745.6,1262.3 L769.0,1272.2 L786.9,1279.3 L806.6,1288.3 L826.4,1294.6 L842.5,1300.0 L853.3,1305.4 L871.3,1309.9 L889.2,1313.4 L907.1,1318.8 L915.0,1320.6" fill="none" stroke="#000" stroke-width="2.3" stroke-linejoin="round"/>
<path d="M129.5,871.6 L149.7,886.4 L161.2,896.3 L172.7,907.8 L182.6,916.1 L192.5,927.6 L204.0,934.2 L213.9,940.8 L223.8,954.0 L235.3,963.9 L250.2,975.4 L261.7,985.3 L274.9,996.8 L284.8,1003.4 L294.7,1013.3 L309.5,1024.8 L324.3,1036.4 L337.5,1044.6 L354.0,1057.8 L368.8,1066.0 L384.0,1077.0 L398.0,1085.0 L411.0,1094.5 L428.9,1104.7 L445.3,1115.4 L461.8,1124.5 L478.3,1136.0 L494.8,1144.3 L511.2,1155.8 L527.7,1165.7 L544.2,1176.4 L560.7,1183.8 L577.2,1191.2 L593.6,1201.1 L610.1,1208.5 L620.0,1213.8 L638.0,1222.8 L655.9,1230.9 L673.8,1239.0 L691.8,1247.0 L709.7,1255.1 L727.7,1261.4 L745.6,1269.5 L763.6,1275.8 L781.5,1282.9 L799.5,1287.4 L804.9,1290.1 L817.4,1295.5 L835.4,1300.0 L853.3,1305.4 L871.3,1309.9 L889.2,1313.4 L907.1,1318.8 L915.0,1320.6" fill="none" stroke="#0000ff" stroke-width="2.3" stroke-linejoin="round"/>
<path d="M129.5,871.6 L140.0,880.0 L150.0,891.0 L161.2,904.5 L174.4,914.4 L189.2,927.6 L202.4,940.8 L215.6,954.0 L228.7,968.8 L241.9,980.3 L255.1,991.9 L268.3,1006.7 L281.5,1018.2 L294.7,1031.4 L307.8,1043.0 L322.7,1056.1 L337.5,1069.3 L354.7,1080.0 L371.2,1091.5 L387.7,1103.1 L404.1,1113.0 L420.6,1124.5 L437.1,1136.0 L453.6,1145.9 L470.1,1154.1 L486.5,1164.0 L503.0,1173.9 L519.5,1180.5 L536.0,1189.6 L552.4,1196.2 L568.9,1203.6 L585.4,1211.8 L601.9,1220.1 L620.0,1227.3 L638.0,1235.4 L655.9,1242.6 L673.8,1247.9 L691.8,1253.3 L709.7,1257.8 L727.7,1265.0 L745.6,1272.2 L763.6,1277.6 L781.5,1283.8 L799.5,1289.2 L817.4,1296.4 L835.4,1301.8 L853.3,1305.4 L871.3,1310.8 L889.2,1316.1 L900.0,1318.8 L920.0,1320.6" fill="none" stroke="#00ff00" stroke-width="2.3" stroke-linejoin="round"/>
<path d="M129.5,871.6 L140.0,881.0 L150.0,892.0 L160.0,903.0 L169.4,914.4 L182.6,927.6 L195.8,942.4 L209.0,957.3 L218.9,973.7 L232.0,990.2 L245.2,1006.7 L261.7,1023.2 L271.6,1036.4 L284.8,1047.9 L298.0,1062.7 L311.1,1074.3 L324.3,1085.8 L335.0,1095.5 L346.5,1106.4 L363.0,1119.5 L379.4,1131.1 L395.9,1142.6 L412.4,1155.8 L428.9,1164.0 L445.3,1175.6 L461.8,1183.8 L478.3,1192.0 L494.8,1200.3 L511.2,1208.5 L527.7,1216.8 L544.2,1222.5 L560.7,1228.3 L577.2,1234.9 L593.6,1241.5 L610.1,1243.9 L620.0,1250.0 L638.0,1256.0 L655.9,1260.5 L673.8,1264.1 L691.8,1268.6 L709.7,1274.9 L727.7,1276.7 L745.6,1282.0 L763.6,1285.6 L781.5,1290.1 L799.5,1293.7 L817.4,1298.2 L835.4,1302.7 L853.3,1307.2 L871.3,1311.7 L889.2,1316.1 L900.0,1318.8 L915.0,1320.6" fill="none" stroke="#00ff00" stroke-width="2.3" stroke-linejoin="round"/>
<path d="M129.5,871.6 L140.0,881.0 L150.0,893.0 L157.9,906.2 L172.7,919.4 L185.9,930.9 L199.1,945.7 L212.3,957.3 L225.5,973.7 L235.3,986.9 L248.5,1001.8 L261.7,1016.6 L273.2,1028.1 L284.8,1039.7 L294.7,1052.8 L304.5,1062.7 L317.7,1074.3 L330.9,1083.0 L346.5,1096.5 L363.0,1108.0 L379.4,1121.2 L395.9,1131.1 L412.4,1142.6 L428.9,1152.5 L445.3,1162.4 L461.8,1170.6 L478.3,1180.5 L494.8,1187.9 L511.2,1198.6 L527.7,1203.6 L544.2,1213.5 L560.7,1219.2 L577.2,1225.8 L593.6,1231.6 L610.1,1235.7 L620.0,1240.8 L638.0,1247.9 L655.9,1251.5 L673.8,1256.9 L691.8,1262.3 L709.7,1267.7 L727.7,1273.1 L745.6,1276.7 L763.6,1280.2 L781.5,1285.6 L799.5,1290.1 L817.4,1295.5 L835.4,1300.0 L853.3,1305.4 L871.3,1309.9 L889.2,1313.4 L907.1,1318.8 L920.0,1320.6" fill="none" stroke="#ff0000" stroke-width="2.3" stroke-linejoin="round"/>
<path d="M129.5,871.6 L140.0,882.0 L153.0,894.7 L166.1,914.4 L179.3,926.0 L192.5,944.1 L202.4,962.2 L215.6,978.7 L227.1,1001.8 L240.3,1014.9 L251.8,1029.8 L263.3,1047.9 L274.9,1059.4 L284.8,1072.6 L294.7,1084.2 L304.5,1095.7 L317.7,1107.2 L330.0,1116.0 L346.5,1132.7 L363.0,1147.6 L379.4,1162.4 L395.9,1170.6 L412.4,1183.0 L428.9,1192.0 L445.3,1201.9 L461.8,1208.5 L478.3,1216.8 L494.8,1224.2 L511.2,1229.9 L527.7,1235.7 L544.2,1242.3 L560.7,1246.4 L577.2,1251.4 L593.6,1255.5 L610.1,1258.8 L620.0,1264.1 L638.0,1267.7 L655.9,1272.2 L673.8,1276.7 L691.8,1282.0 L709.7,1285.6 L727.7,1289.2 L745.6,1294.6 L763.6,1298.2 L781.5,1302.7 L799.5,1308.1 L817.4,1312.5 L835.4,1316.1 L853.3,1318.8 L855.0,1320.6 L977.0,1320.6" fill="none" stroke="#ff0000" stroke-width="2.3" stroke-linejoin="round"/>
<line x1="170.9" y1="826.3" x2="170.9" y2="901.7" stroke="#000" stroke-width="2"/>
<line x1="184.5" y1="826.3" x2="184.5" y2="910.7" stroke="#000" stroke-width="3"/>
<line x1="191.3" y1="850.2" x2="191.3" y2="927.4" stroke="#0000ff" stroke-width="3"/>
<line x1="204.9" y1="850.2" x2="204.9" y2="936.0" stroke="#0000ff" stroke-width="2"/>
<line x1="215.2" y1="862.1" x2="215.2" y2="968.8" stroke="#00ff00" stroke-width="3"/>
<line x1="225.5" y1="862.1" x2="225.5" y2="966.4" stroke="#00ff00" stroke-width="3"/>
<line x1="597.1" y1="826.9" x2="597.1" y2="1257.4" stroke="#ff0000" stroke-width="2"/>
<line x1="607.4" y1="826.9" x2="607.4" y2="1236.2" stroke="#ff0000" stroke-width="3"/>
<text transform="translate(93.13,814.79) scale(0.9969,1)" font-size="31.23">TS DIFF LIMIT</text>
<text transform="translate(186.53,840.31) scale(0.9512,1)" font-size="32.79">TS 0.00 DEG</text>
<text transform="translate(207.53,866.30) scale(0.9391,1)" font-size="33.24">TS 3.50 DEG</text>
<text transform="translate(534.33,822.01) scale(0.9630,1)" font-size="32.35">TS 5.00 DEG</text>
<text transform="translate(76.61,891.32) scale(0.9722,1)" font-size="32.06">1.0</text>
<text transform="translate(76.53,928.51) scale(0.9547,1)" font-size="32.65">0.9</text>
<text transform="translate(76.53,979.31) scale(0.9570,1)" font-size="32.50">0.8</text>
<text transform="translate(76.54,1017.12) scale(0.9640,1)" font-size="32.06">0.7</text>
<text transform="translate(76.54,1061.01) scale(0.9550,1)" font-size="32.50">0.6</text>
<text transform="translate(76.53,1106.71) scale(0.9610,1)" font-size="32.50">0.5</text>
<text transform="translate(76.55,1144.31) scale(0.9450,1)" font-size="32.50">0.4</text>
<text transform="translate(76.53,1189.01) scale(0.9504,1)" font-size="32.79">0.3</text>
<text transform="translate(76.52,1232.02) scale(0.9784,1)" font-size="32.06">0.2</text>
<text transform="translate(76.51,1276.50) scale(0.9477,1)" font-size="33.38">0.1</text>
<text transform="translate(76.53,1314.61) scale(0.9610,1)" font-size="32.50">0.0</text>
<text transform="translate(124.07,1352.76) scale(0.9725,1)" font-size="33.63">0</text>
<text transform="translate(199.17,1352.60) scale(0.9530,1)" font-size="33.38">8.8</text>
<text transform="translate(272.33,1352.60) scale(0.9591,1)" font-size="33.51">17.6</text>
<text transform="translate(358.74,1352.60) scale(0.9519,1)" font-size="33.51">26.4</text>
<text transform="translate(444.22,1352.60) scale(0.9418,1)" font-size="33.51">35.2</text>
<text transform="translate(529.21,1352.60) scale(0.9357,1)" font-size="33.38">44.0</text>
<text transform="translate(612.55,1352.60) scale(0.9393,1)" font-size="33.38">52.8</text>
<text transform="translate(698.91,1352.60) scale(0.9317,1)" font-size="33.51">61.6</text>
<text transform="translate(779.51,1352.60) scale(0.9336,1)" font-size="33.38">70.4</text>
<text transform="translate(862.81,1352.60) scale(0.9297,1)" font-size="33.51">79.2</text>
<text transform="translate(931.77,1352.60) scale(0.9504,1)" font-size="33.38">88.0</text>
<text transform="translate(268.76,1383.77) scale(0.9967,1)" font-size="31.30">Spatial frequency in cycles per mm</text>
<text transform="translate(64.61,1224.95) rotate(-90) scale(1.0069,1)" font-size="31.08">Modulus of the OTF</text>
<text transform="translate(505.77,1470.87) scale(1.0341,1)" font-size="50.03">(c)</text>
<line x1="1197.2" y1="855.1" x2="1197.2" y2="1321.2" stroke="#d9d9d9" stroke-width="2.2"/>
<line x1="1283.4" y1="855.1" x2="1283.4" y2="1321.2" stroke="#d9d9d9" stroke-width="2.2"/>
<line x1="1371.1" y1="855.1" x2="1371.1" y2="1321.2" stroke="#d9d9d9" stroke-width="2.2"/>
<line x1="1459.0" y1="855.1" x2="1459.0" y2="1321.2" stroke="#d9d9d9" stroke-width="2.2"/>
<line x1="1545.4" y1="855.1" x2="1545.4" y2="1321.2" stroke="#d9d9d9" stroke-width="2.2"/>
<line x1="1632.9" y1="855.1" x2="1632.9" y2="1321.2" stroke="#d9d9d9" stroke-width="2.2"/>
<line x1="1721.2" y1="855.1" x2="1721.2" y2="1321.2" stroke="#d9d9d9" stroke-width="2.2"/>
<line x1="1807.3" y1="855.1" x2="1807.3" y2="1321.2" stroke="#d9d9d9" stroke-width="2.2"/>
<line x1="1894.8" y1="855.1" x2="1894.8" y2="1321.2" stroke="#d9d9d9" stroke-width="2.2"/>
<line x1="1109.5" y1="903.2" x2="1982.3" y2="903.2" stroke="#d9d9d9" stroke-width="2.8"/>
<line x1="1109.5" y1="949.3" x2="1982.3" y2="949.3" stroke="#d9d9d9" stroke-width="2.8"/>
<line x1="1109.5" y1="995.3" x2="1982.3" y2="995.3" stroke="#d9d9d9" stroke-width="2.8"/>
<line x1="1109.5" y1="1041.2" x2="1982.3" y2="1041.2" stroke="#d9d9d9" stroke-width="2.8"/>
<line x1="1109.5" y1="1089.7" x2="1982.3" y2="1089.7" stroke="#d9d9d9" stroke-width="2.8"/>
<line x1="1109.5" y1="1135.0" x2="1982.3" y2="1135.0" stroke="#d9d9d9" stroke-width="2.8"/>
<line x1="1109.5" y1="1181.1" x2="1982.3" y2="1181.1" stroke="#d9d9d9" stroke-width="2.8"/>
<line x1="1109.5" y1="1229.8" x2="1982.3" y2="1229.8" stroke="#d9d9d9" stroke-width="2.8"/>
<line x1="1109.5" y1="1275.7" x2="1982.3" y2="1275.7" stroke="#d9d9d9" stroke-width="2.8"/>
<line x1="1197.2" y1="855.1" x2="1197.2" y2="865.1" stroke="#000" stroke-width="2.2"/>
<line x1="1197.2" y1="1321.2" x2="1197.2" y2="1311.2" stroke="#000" stroke-width="2.2"/>
<line x1="1283.4" y1="855.1" x2="1283.4" y2="865.1" stroke="#000" stroke-width="2.2"/>
<line x1="1283.4" y1="1321.2" x2="1283.4" y2="1311.2" stroke="#000" stroke-width="2.2"/>
<line x1="1371.1" y1="855.1" x2="1371.1" y2="865.1" stroke="#000" stroke-width="2.2"/>
<line x1="1371.1" y1="1321.2" x2="1371.1" y2="1311.2" stroke="#000" stroke-width="2.2"/>
<line x1="1459.0" y1="855.1" x2="1459.0" y2="865.1" stroke="#000" stroke-width="2.2"/>
<line x1="1459.0" y1="1321.2" x2="1459.0" y2="1311.2" stroke="#000" stroke-width="2.2"/>
<line x1="1545.4" y1="855.1" x2="1545.4" y2="865.1" stroke="#000" stroke-width="2.2"/>
<line x1="1545.4" y1="1321.2" x2="1545.4" y2="1311.2" stroke="#000" stroke-width="2.2"/>
<line x1="1632.9" y1="855.1" x2="1632.9" y2="865.1" stroke="#000" stroke-width="2.2"/>
<line x1="1632.9" y1="1321.2" x2="1632.9" y2="1311.2" stroke="#000" stroke-width="2.2"/>
<line x1="1721.2" y1="855.1" x2="1721.2" y2="865.1" stroke="#000" stroke-width="2.2"/>
<line x1="1721.2" y1="1321.2" x2="1721.2" y2="1311.2" stroke="#000" stroke-width="2.2"/>
<line x1="1807.3" y1="855.1" x2="1807.3" y2="865.1" stroke="#000" stroke-width="2.2"/>
<line x1="1807.3" y1="1321.2" x2="1807.3" y2="1311.2" stroke="#000" stroke-width="2.2"/>
<line x1="1894.8" y1="855.1" x2="1894.8" y2="865.1" stroke="#000" stroke-width="2.2"/>
<line x1="1894.8" y1="1321.2" x2="1894.8" y2="1311.2" stroke="#000" stroke-width="2.2"/>
<line x1="1109.5" y1="903.2" x2="1119.5" y2="903.2" stroke="#000" stroke-width="2.8"/>
<line x1="1982.3" y1="903.2" x2="1972.3" y2="903.2" stroke="#000" stroke-width="2.8"/>
<line x1="1109.5" y1="949.3" x2="1119.5" y2="949.3" stroke="#000" stroke-width="2.8"/>
<line x1="1982.3" y1="949.3" x2="1972.3" y2="949.3" stroke="#000" stroke-width="2.8"/>
<line x1="1109.5" y1="995.3" x2="1119.5" y2="995.3" stroke="#000" stroke-width="2.8"/>
<line x1="1982.3" y1="995.3" x2="1972.3" y2="995.3" stroke="#000" stroke-width="2.8"/>
<line x1="1109.5" y1="1041.2" x2="1119.5" y2="1041.2" stroke="#000" stroke-width="2.8"/>
<line x1="1982.3" y1="1041.2" x2="1972.3" y2="1041.2" stroke="#000" stroke-width="2.8"/>
<line x1="1109.5" y1="1089.7" x2="1119.5" y2="1089.7" stroke="#000" stroke-width="2.8"/>
<line x1="1982.3" y1="1089.7" x2="1972.3" y2="1089.7" stroke="#000" stroke-width="2.8"/>
<line x1="1109.5" y1="1135.0" x2="1119.5" y2="1135.0" stroke="#000" stroke-width="2.8"/>
<line x1="1982.3" y1="1135.0" x2="1972.3" y2="1135.0" stroke="#000" stroke-width="2.8"/>
<line x1="1109.5" y1="1181.1" x2="1119.5" y2="1181.1" stroke="#000" stroke-width="2.8"/>
<line x1="1982.3" y1="1181.1" x2="1972.3" y2="1181.1" stroke="#000" stroke-width="2.8"/>
<line x1="1109.5" y1="1229.8" x2="1119.5" y2="1229.8" stroke="#000" stroke-width="2.8"/>
<line x1="1982.3" y1="1229.8" x2="1972.3" y2="1229.8" stroke="#000" stroke-width="2.8"/>
<line x1="1109.5" y1="1275.7" x2="1119.5" y2="1275.7" stroke="#000" stroke-width="2.8"/>
<line x1="1982.3" y1="1275.7" x2="1972.3" y2="1275.7" stroke="#000" stroke-width="2.8"/>
<rect x="1109.5" y="855.1" width="872.8" height="466.1" fill="none" stroke="#000" stroke-width="3"/>
<path d="M1109.6,855.3 L1121.4,865.7 L1128.0,868.1 L1137.9,876.4 L1147.8,884.6 L1157.7,890.4 L1169.2,897.8 L1179.1,906.0 L1192.3,914.3 L1205.5,922.5 L1218.6,932.4 L1230.2,939.0 L1240.1,946.4 L1249.9,954.6 L1263.1,963.7 L1274.7,971.9 L1286.2,979.3 L1296.1,985.1 L1306.0,992.5 L1315.8,999.9 L1329.0,1009.0 L1340.6,1016.4 L1352.1,1024.7 L1363.6,1032.9 L1376.8,1041.1 L1390.0,1050.2 L1400.0,1058.4 L1425.9,1075.0 L1441.0,1084.2 L1454.5,1093.5 L1468.0,1101.9 L1481.4,1110.3 L1494.8,1119.6 L1508.3,1127.1 L1521.7,1137.2 L1535.2,1143.9 L1548.6,1152.3 L1565.5,1162.4 L1582.3,1174.2 L1597.4,1181.8 L1610.0,1189.4 L1628.9,1199.8 L1647.9,1212.1 L1666.8,1220.6 L1685.8,1232.0 L1704.7,1241.5 L1723.7,1250.9 L1742.6,1260.4 L1761.5,1268.9 L1780.5,1278.4 L1799.4,1285.0 L1818.4,1291.7 L1837.3,1298.3 L1850.6,1302.1 L1856.3,1304.9 L1875.2,1310.6 L1894.1,1316.3 L1913.1,1319.1 L1920.0,1322.0" fill="none" stroke="#000" stroke-width="2.3" stroke-linejoin="round"/>
<path d="M1109.6,855.3 L1120.0,863.0 L1129.7,870.6 L1141.2,879.7 L1152.7,893.0 L1162.6,899.4 L1172.5,911.0 L1185.7,920.9 L1193.9,927.4 L1202.2,934.0 L1212.0,943.9 L1220.3,952.2 L1231.8,962.9 L1245.0,973.6 L1256.5,981.8 L1268.1,990.1 L1279.6,1001.0 L1289.5,1008.2 L1301.0,1016.4 L1314.2,1027.1 L1327.4,1037.8 L1342.2,1049.4 L1357.0,1057.6 L1370.2,1065.9 L1383.9,1075.0 L1399.0,1087.0 L1414.1,1096.9 L1429.3,1107.8 L1444.4,1115.3 L1457.9,1124.6 L1474.7,1133.0 L1488.1,1143.9 L1504.9,1154.0 L1521.7,1162.4 L1538.6,1170.8 L1555.4,1180.9 L1572.2,1187.6 L1589.0,1199.4 L1605.8,1206.1 L1619.9,1212.9 L1628.9,1218.7 L1647.9,1227.2 L1666.8,1235.8 L1685.8,1243.3 L1704.7,1251.9 L1723.7,1259.5 L1742.6,1267.0 L1761.5,1273.7 L1780.5,1283.1 L1799.4,1287.9 L1812.7,1291.7 L1837.3,1300.2 L1856.3,1304.9 L1875.2,1310.6 L1894.1,1316.3 L1913.1,1319.1 L1920.0,1322.0" fill="none" stroke="#0000ff" stroke-width="2.3" stroke-linejoin="round"/>
<path d="M1109.6,855.3 L1120.0,864.0 L1128.0,873.0 L1137.9,884.6 L1149.4,894.5 L1162.6,904.4 L1172.5,915.9 L1182.4,925.8 L1192.3,932.4 L1202.2,945.6 L1215.3,958.8 L1225.2,968.6 L1235.1,980.2 L1248.3,991.7 L1261.5,1001.6 L1273.0,1013.1 L1284.5,1024.7 L1297.7,1036.2 L1309.3,1047.7 L1322.4,1057.6 L1335.6,1069.1 L1348.8,1074.1 L1360.3,1084.0 L1367.1,1090.1 L1383.9,1100.2 L1400.7,1113.7 L1417.5,1123.8 L1434.3,1133.8 L1451.1,1142.2 L1468.0,1154.0 L1484.8,1162.4 L1501.6,1170.8 L1518.4,1180.9 L1535.2,1189.3 L1552.0,1196.0 L1568.8,1202.8 L1585.6,1212.9 L1602.4,1218.7 L1619.9,1226.0 L1628.9,1230.1 L1647.9,1237.7 L1666.8,1243.3 L1685.8,1250.0 L1704.7,1255.7 L1723.7,1263.2 L1742.6,1271.8 L1761.5,1278.4 L1780.5,1286.0 L1799.4,1292.6 L1818.4,1297.3 L1837.3,1302.1 L1856.3,1307.8 L1875.2,1312.5 L1894.1,1317.2 L1899.8,1320.1 L1910.0,1322.0" fill="none" stroke="#00ff00" stroke-width="2.3" stroke-linejoin="round"/>
<path d="M1109.6,855.3 L1120.0,865.0 L1130.0,876.0 L1143.0,890.0 L1156.0,906.0 L1169.2,920.9 L1179.1,934.0 L1192.3,947.2 L1202.2,962.0 L1212.0,971.9 L1221.9,985.1 L1231.8,995.0 L1240.1,1004.9 L1248.3,1019.7 L1259.8,1028.0 L1271.4,1042.8 L1284.5,1054.3 L1297.7,1064.2 L1310.9,1077.4 L1320.0,1086.8 L1336.8,1098.5 L1353.6,1113.7 L1370.4,1127.1 L1387.2,1138.9 L1404.1,1150.7 L1420.9,1159.1 L1437.7,1170.8 L1457.9,1180.9 L1474.7,1189.3 L1491.5,1197.7 L1508.3,1204.5 L1525.1,1212.9 L1541.9,1219.6 L1558.7,1226.3 L1575.5,1233.0 L1592.4,1238.1 L1609.2,1243.1 L1628.9,1250.0 L1647.9,1254.7 L1666.8,1259.5 L1685.8,1263.2 L1704.7,1269.9 L1723.7,1273.7 L1742.6,1279.3 L1761.5,1284.1 L1780.5,1288.8 L1799.4,1293.5 L1818.4,1297.3 L1837.3,1302.1 L1856.3,1307.8 L1875.2,1312.5 L1894.1,1317.2 L1899.8,1320.1 L1910.0,1322.0" fill="none" stroke="#00ff00" stroke-width="2.3" stroke-linejoin="round"/>
<path d="M1109.6,855.3 L1120.0,865.0 L1130.0,875.0 L1138.0,884.0 L1146.1,894.5 L1159.3,906.0 L1169.2,917.6 L1180.7,929.1 L1192.3,939.0 L1202.2,952.2 L1212.0,965.3 L1221.9,976.9 L1230.2,988.4 L1240.1,998.3 L1248.3,1009.8 L1259.8,1016.4 L1266.4,1024.7 L1274.7,1034.5 L1284.5,1044.4 L1296.1,1054.3 L1307.6,1064.2 L1320.0,1076.0 L1336.8,1090.1 L1350.3,1100.2 L1363.7,1110.3 L1377.2,1122.1 L1390.6,1127.1 L1404.1,1137.2 L1417.5,1145.6 L1431.0,1155.7 L1447.8,1165.8 L1464.6,1174.2 L1481.4,1182.6 L1498.2,1191.0 L1515.0,1197.7 L1531.8,1207.8 L1548.6,1212.9 L1565.5,1219.6 L1582.3,1224.6 L1599.1,1232.2 L1610.0,1234.8 L1628.9,1241.5 L1647.9,1246.2 L1666.8,1250.9 L1685.8,1256.6 L1704.7,1262.3 L1723.7,1268.9 L1742.6,1273.7 L1761.5,1278.4 L1780.5,1284.1 L1799.4,1290.7 L1818.4,1294.5 L1837.3,1300.2 L1856.3,1304.9 L1875.2,1310.6 L1894.1,1316.3 L1913.1,1319.1 L1920.0,1322.0" fill="none" stroke="#ff0000" stroke-width="2.3" stroke-linejoin="round"/>
<path d="M1109.6,855.3 L1121.4,868.1 L1133.0,879.7 L1146.1,897.8 L1157.7,909.3 L1167.6,925.8 L1177.4,940.6 L1185.7,953.8 L1197.2,968.6 L1207.1,985.1 L1215.3,998.3 L1225.2,1004.9 L1231.8,1016.4 L1241.7,1029.6 L1248.3,1041.1 L1258.2,1049.4 L1266.4,1057.6 L1274.7,1070.8 L1284.5,1080.7 L1292.8,1092.2 L1305.0,1103.0 L1320.0,1113.7 L1336.8,1125.4 L1346.9,1137.2 L1363.7,1152.3 L1378.8,1164.1 L1395.7,1174.2 L1409.1,1184.3 L1425.9,1192.7 L1442.7,1200.3 L1459.5,1208.7 L1476.4,1216.2 L1493.2,1223.8 L1510.0,1229.7 L1526.8,1237.2 L1543.6,1241.4 L1560.4,1246.5 L1577.2,1250.7 L1590.7,1254.0 L1605.8,1257.4 L1628.9,1263.2 L1647.9,1267.0 L1666.8,1272.7 L1685.8,1278.4 L1704.7,1284.1 L1723.7,1287.9 L1742.6,1293.5 L1761.5,1297.3 L1780.5,1302.1 L1799.4,1307.8 L1818.4,1312.5 L1837.3,1316.3 L1854.4,1320.1 L1856.3,1322.0 L1982.0,1322.0" fill="none" stroke="#ff0000" stroke-width="2.3" stroke-linejoin="round"/>
<line x1="1152.2" y1="808.1" x2="1152.2" y2="888.4" stroke="#000" stroke-width="3"/>
<line x1="1165.3" y1="808.1" x2="1165.3" y2="896.5" stroke="#000" stroke-width="1.5"/>
<line x1="1173.2" y1="835.2" x2="1173.2" y2="912.7" stroke="#0000ff" stroke-width="3"/>
<line x1="1187.1" y1="835.2" x2="1187.1" y2="923.2" stroke="#0000ff" stroke-width="3"/>
<line x1="1197.2" y1="846.3" x2="1197.2" y2="955.7" stroke="#00ff00" stroke-width="3"/>
<line x1="1208.3" y1="846.3" x2="1208.3" y2="952.9" stroke="#00ff00" stroke-width="3"/>
<line x1="1590.6" y1="813" x2="1590.6" y2="1255.2" stroke="#ff0000" stroke-width="3"/>
<line x1="1600.5" y1="813" x2="1600.5" y2="1233.7" stroke="#ff0000" stroke-width="3"/>
<text transform="translate(1077.03,799.78) scale(0.9925,1)" font-size="31.82">TS DIFF LIMIT</text>
<text transform="translate(1167.53,825.81) scale(0.9713,1)" font-size="32.50">TS 0.00 DEG</text>
<text transform="translate(1194.63,851.11) scale(0.9713,1)" font-size="32.35">TS 3.50 DEG</text>
<text transform="translate(1525.43,808.10) scale(0.9562,1)" font-size="33.09">TS 5.00 DEG</text>
<text transform="translate(1056.60,874.50) scale(0.9397,1)" font-size="33.53">1.0</text>
<text transform="translate(1056.52,913.89) scale(0.9315,1)" font-size="33.82">0.9</text>
<text transform="translate(1056.52,965.30) scale(0.9377,1)" font-size="33.53">0.8</text>
<text transform="translate(1056.53,1003.80) scale(0.9359,1)" font-size="33.38">0.7</text>
<text transform="translate(1056.52,1049.18) scale(0.9040,1)" font-size="34.71">0.6</text>
<text transform="translate(1056.52,1094.39) scale(0.9295,1)" font-size="33.97">0.5</text>
<text transform="translate(1056.54,1133.39) scale(0.9179,1)" font-size="33.82">0.4</text>
<text transform="translate(1056.52,1178.98) scale(0.9078,1)" font-size="34.71">0.3</text>
<text transform="translate(1056.51,1223.30) scale(0.9499,1)" font-size="33.38">0.2</text>
<text transform="translate(1056.50,1268.29) scale(0.9374,1)" font-size="34.12">0.1</text>
<text transform="translate(1056.52,1307.89) scale(0.9255,1)" font-size="34.12">0.0</text>
<text transform="translate(1101.77,1352.86) scale(0.9725,1)" font-size="33.63">0</text>
<text transform="translate(1168.57,1352.70) scale(0.9500,1)" font-size="33.38">8.9</text>
<text transform="translate(1248.56,1352.70) scale(0.9513,1)" font-size="33.38">17.8</text>
<text transform="translate(1333.14,1352.70) scale(0.9544,1)" font-size="33.51">26.7</text>
<text transform="translate(1425.30,1352.70) scale(0.9544,1)" font-size="33.51">35.6</text>
<text transform="translate(1514.71,1352.69) scale(0.9236,1)" font-size="33.75">44.5</text>
<text transform="translate(1602.14,1352.70) scale(0.9434,1)" font-size="33.51">53.4</text>
<text transform="translate(1698.21,1352.70) scale(0.9327,1)" font-size="33.51">62.3</text>
<text transform="translate(1778.67,1352.70) scale(0.9496,1)" font-size="33.51">71.2</text>
<text transform="translate(1862.29,1352.70) scale(0.9302,1)" font-size="33.38">80.1</text>
<text transform="translate(1948.00,1352.70) scale(0.9236,1)" font-size="33.38">89.0</text>
<text transform="translate(1256.54,1383.77) scale(1.0120,1)" font-size="31.30">Spatial frequency in cycles per mm</text>
<text transform="translate(1044.60,1215.86) rotate(-90) scale(1.0044,1)" font-size="31.78">Modulus of the OTF</text>
<text transform="translate(1446.66,1470.87) scale(1.0373,1)" font-size="50.03">(d)</text>
</svg></body></html>
